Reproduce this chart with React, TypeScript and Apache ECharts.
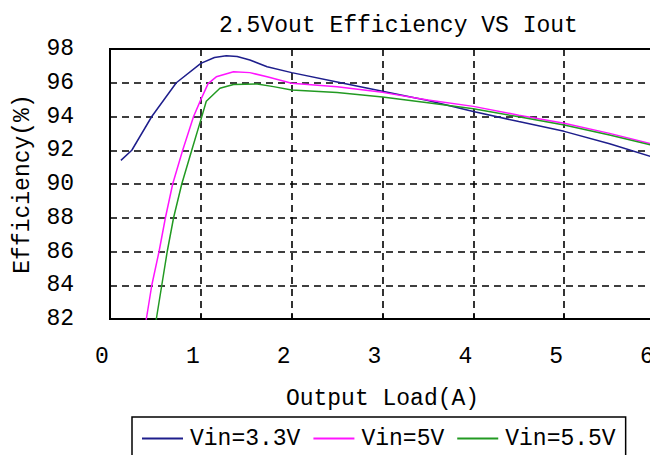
import React, { useEffect, useRef } from "react";
import * as echarts from "echarts";

const titleText = "2.5Vout Efficiency VS Iout";
const xAxisName = "Output Load(A)";
const yAxisName = "Efficiency(%)";
const seriesNames = ["Vin=3.3V", "Vin=5V", "Vin=5.5V"];
const seriesColors = ["#1e1e8c", "#ff14ff", "#229a22"];

const loadVin33 = [0.12, 0.24, 0.46, 0.73, 1.0, 1.15, 1.28, 1.4, 1.54, 1.73, 2.0, 2.5, 3.0, 3.5, 4.0, 4.5, 5.0, 5.5, 6.0];
const effVin33 = [91.4, 92.0, 94.0, 96.0, 97.15, 97.5, 97.6, 97.55, 97.35, 96.95, 96.6, 96.05, 95.5, 94.95, 94.3, 93.7, 93.12, 92.38, 91.55];

const loadVin5 = [0.35, 0.4, 0.46, 0.54, 0.61, 0.69, 0.8, 0.92, 1.0, 1.08, 1.17, 1.36, 1.54, 1.73, 2.0, 2.5, 3.0, 3.5, 4.0, 4.5, 5.0, 5.5, 6.0];
const effVin5 = [80.6, 82.0, 84.0, 86.0, 88.0, 90.0, 92.0, 94.0, 95.0, 95.95, 96.35, 96.65, 96.6, 96.35, 95.97, 95.77, 95.43, 94.98, 94.6, 94.08, 93.6, 93.0, 92.32];

const loadVin55 = [0.46, 0.51, 0.57, 0.63, 0.7, 0.79, 0.9, 1.0, 1.06, 1.21, 1.36, 1.62, 1.8, 2.0, 2.5, 3.0, 3.5, 4.0, 4.5, 5.0, 5.5, 6.0];
const effVin55 = [80.6, 82.0, 84.0, 86.0, 88.0, 90.0, 92.0, 93.8, 94.9, 95.67, 95.9, 95.93, 95.77, 95.57, 95.42, 95.15, 94.82, 94.46, 93.98, 93.5, 92.9, 92.25];

const loads = [loadVin33, loadVin5, loadVin55];
const effs = [effVin33, effVin5, effVin55];

const FONT = "Liberation Mono";

export default function App() {
  const ref = useRef<HTMLDivElement>(null);
  useEffect(() => {
    if (!ref.current) return;
    const chart = echarts.init(ref.current, undefined, { renderer: "svg" });
    const series = seriesNames.map((name, i) => ({
      name,
      type: "line",
      symbol: "none",
      showSymbol: false,
      smooth: false,
      clip: true,
      lineStyle: { color: seriesColors[i], width: 1.5 },
      itemStyle: { color: seriesColors[i] },
      data: loads[i].map((x, j) => [x, effs[i][j]]),
    }));
    chart.setOption({
      animation: false,
      backgroundColor: "#ffffff",
      title: {
        text: titleText,
        left: 214,
        top: 9,
        textStyle: { fontFamily: FONT, fontSize: 23, fontWeight: "normal", color: "#000" },
      },
      legend: {
        left: 132,
        top: 417,
        orient: "horizontal",
        padding: [10, 10, 10, 10],
        itemGap: 13,
        itemWidth: 41,
        itemHeight: 2,
        icon: "rect",
        borderColor: "#000",
        borderWidth: 1.5,
        selectedMode: false,
        data: seriesNames,
        textStyle: { fontFamily: FONT, fontSize: 23, color: "#000", padding: [0, 0, 0, 2], lineHeight: 23 },
      },
      grid: {
        left: 110,
        top: 49,
        width: 545,
        height: 270,
        show: true,
        borderColor: "#000",
        borderWidth: 2,
        containLabel: false,
        outerBoundsMode: "none",
      },
      xAxis: {
        type: "value",
        min: 0,
        max: 6,
        interval: 1,
        name: xAxisName,
        nameLocation: "middle",
        nameGap: 68,
        nameTextStyle: { fontFamily: FONT, fontSize: 23, color: "#000" },
        axisLine: { show: false },
        axisTick: { show: true, inside: true, length: 5, lineStyle: { color: "#000", width: 1.5 } },
        axisLabel: {
          fontFamily: FONT,
          fontSize: 23,
          color: "#000",
          margin: 26,
          padding: [0, 16, 0, 0],
        },
        splitLine: { show: true, lineStyle: { color: "#000", width: 1.6, type: [7, 5] } },
      },
      yAxis: {
        type: "value",
        min: 82,
        max: 98,
        interval: 2,
        name: yAxisName,
        nameLocation: "middle",
        nameGap: 76,
        nameTextStyle: { fontFamily: FONT, fontSize: 23, color: "#000" },
        axisLine: { show: false },
        axisTick: { show: false },
        axisLabel: {
          fontFamily: FONT,
          fontSize: 23,
          color: "#000",
          margin: 36,
          padding: [5, 0, 0, 0],
        },
        splitLine: { show: true, lineStyle: { color: "#000", width: 1.6, type: [7, 5] } },
      },
      series,
    });
    return () => chart.dispose();
  }, []);
  return (
    <div
      ref={ref}
      style={{ position: "fixed", left: 0, top: 0, width: 650, height: 455 }}
    />
  );
}
